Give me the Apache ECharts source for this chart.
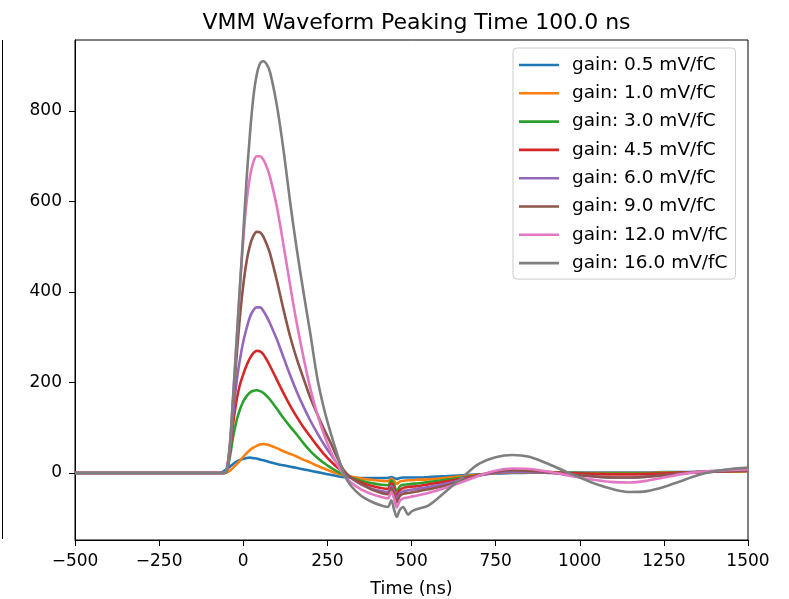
<!DOCTYPE html>
<html>
<head>
<meta charset="utf-8">
<script src="https://cdn.jsdelivr.net/npm/echarts@6/dist/echarts.min.js"></script>
<style>html,body{margin:0;padding:0;background:#fff;}#c{width:789px;height:599px;}</style>
</head>
<body>
<div id="c"></div>
<script>
const times = [-500,-400,-300,-200,-100,-70,-60,-50,-40,-30,-20,-10,0,10,20,30,40,50,60,70,80,100,120,140,160,180,200,220,240,260,280,300,320,350,380,410,430,440,448,456,465,475,490,500,515,550,600,650,700,750,800,850,900,950,1000,1050,1100,1150,1200,1250,1300,1350,1400,1450,1500];

const gain05 = [0,0,0,0,0,0, 3,8,14,20,25,29, 31,33,34,33,32,30,28,26,24, 20,17,14,11,8,5,2,-1,-4,-7,-9, -10,-11,-11,-11,-11, -9,-11,-13,-11,-10,-10,-10,-10, -9,-7,-5,-3,-1,0,1,1,1,1,1,1,1,1,2,2,2,3,3,4];
const gain10 = [0,0,0,0,0,0,0, 1,5,12,19,27, 36,44,51,56,60,63,64,63,61, 55,48,42,36,29,23,16,10,4,-1,-5, -8,-12,-15,-17,-18, -12,-17,-24,-19,-17,-16,-16,-15, -14,-11,-7,-4,0,2,2,2,1,0,0,0,0,0,1,1,2,3,3,4];
const gain30 = [0,0,0,0,0,0,0, 3,35,80,115,140, 158,170,178,182,183,181,177,170,162, 142,121,102,84,65,48,34,22,12,3,-4, -10,-17,-22,-26,-27, -16,-25,-40,-30,-26,-25,-24,-23, -20,-15,-10,-5,1,3,3,2,1,0,-1,-1,-1,-1,0,1,2,3,4,5];
const gain45 = [0,0,0,0,0,0,0, 4,45,110,160,195, 218,238,254,265,270,269,262,250,236, 206,176,148,123,100,80,60,42,26,12,0, -10,-21,-28,-33,-35, -22,-33,-50,-38,-33,-31,-30,-29, -25,-19,-12,-5,1,3,3,2,0,-1,-2,-3,-3,-2,-1,1,2,3,4,5];
const gain60 = [0,0,0,0,0,0,0, 4,50,130,200,250, 290,320,345,360,366,366,358,345,330, 295,255,215,178,145,115,88,63,41,20,3, -11,-25,-34,-40,-42, -28,-40,-58,-45,-40,-38,-37,-35, -31,-24,-15,-6,1,3,3,1,-2,-5,-8,-10,-10,-8,-5,-1,2,4,5,6];
const gain90 = [0,0,0,0,0,0,0, 5,55,155,255,345, 415,468,503,524,533,532,522,505,484, 425,360,300,250,207,165,130,97,66,33,5, -10,-24,-36,-44,-47, -33,-46,-65,-51,-46,-44,-43,-41, -36,-28,-17,-5,3,6,5,2,-2,-5,-8,-10,-10,-8,-5,-1,2,4,5,6];
const gain120 = [0,0,0,0,0,0,0, 5,60,170,290,410, 515,600,655,687,700,700,692,676,653, 588,502,412,327,252,185,130,85,48,18,-5, -21,-36,-46,-53,-56, -42,-56,-76,-62,-56,-54,-52,-50, -44,-33,-20,-6,5,10,9,4,-3,-10,-16,-20,-21,-17,-10,-3,2,5,7,8];
const gain160 = [0,0,0,0,0,0,0, 5,60,170,290,410, 530,650,750,830,880,905,910,903,885, 812,712,595,490,395,305,210,142,88,40,-3, -28,-50,-63,-72,-75, -60,-80,-97,-82,-75,-92,-85,-80, -72,-42,-10,20,35,40,36,22,6,-10,-25,-36,-42,-40,-31,-18,-5,4,9,12];

const seriesNames = ['gain: 0.5 mV/fC','gain: 1.0 mV/fC','gain: 3.0 mV/fC','gain: 4.5 mV/fC','gain: 6.0 mV/fC','gain: 9.0 mV/fC','gain: 12.0 mV/fC','gain: 16.0 mV/fC'];
const seriesValues = [gain05, gain10, gain30, gain45, gain60, gain90, gain120, gain160];
const colors = ['#1f77b4','#ff7f0e','#2ca02c','#d62728','#9467bd','#8c564b','#e377c2','#7f7f7f'];
const xTicks = [-500,-250,0,250,500,750,1000,1250,1500];
const yTicks = [0,200,400,600,800];

const chart = echarts.init(document.getElementById('c'), null, {renderer: 'canvas'});
const font = 'DejaVu Sans';
chart.setOption({
  animation: false,
  backgroundColor: '#fff',
  color: colors,
  title: {
    text: 'VMM Waveform Peaking Time 100.0 ns',
    left: 411.5, top: 7, textAlign: 'center',
    textStyle: {fontFamily: font, fontSize: 22, fontWeight: 'normal', color: '#000'}
  },
  grid: {left: 75, right: 41, top: 40, bottom: 59, show: true, borderColor: '#000', borderWidth: 1,
    containLabel: false, outerBoundsMode: 'none'},
  legend: {
    orient: 'vertical', left: 513, top: 48,
    padding: [7, 8, 6, 6],
    icon: 'rect',
    itemWidth: 40, itemHeight: 2.6, itemGap: 8.3,
    backgroundColor: 'rgba(255,255,255,0.8)', borderColor: '#cccccc', borderWidth: 1, borderRadius: 4,
    textStyle: {fontFamily: font, fontSize: 18.5, color: '#000', lineHeight: 20, padding: [0,0,0,8]},
    data: seriesNames
  },
  xAxis: {
    type: 'value', min: xTicks[0], max: xTicks[xTicks.length-1], interval: 250,
    name: 'Time (ns)', nameLocation: 'middle', nameGap: 40,
    nameTextStyle: {fontFamily: font, fontSize: 17.5, color: '#000'},
    axisLine: {show: true, onZero: false, lineStyle: {color: '#000', width: 1}},
    axisTick: {show: true, inside: false, length: 6, lineStyle: {color: '#000'}},
    axisLabel: {fontFamily: font, fontSize: 17, color: '#000', margin: 13,
      formatter: v => (v < 0 ? '\u2212' + Math.abs(v) : String(v))},
    splitLine: {show: false}
  },
  yAxis: {
    type: 'value', min: -148, max: 957,
    axisLine: {show: true, onZero: false, lineStyle: {color: '#000', width: 1}},
    axisTick: {show: true, inside: false, length: 6, lineStyle: {color: '#000'}, customValues: yTicks},
    axisLabel: {fontFamily: font, fontSize: 17, color: '#000', margin: 13, customValues: yTicks},
    splitLine: {show: false}
  },
  graphic: [{type: 'line', shape: {x1: 2.5, y1: 40, x2: 2.5, y2: 539}, style: {stroke: '#000', lineWidth: 1}}],
  series: seriesNames.map((name, k) => ({
    name: name, type: 'line', symbol: 'none', smooth: 0.3,
    lineStyle: {width: 2.6, color: colors[k]},
    itemStyle: {color: colors[k]},
    data: times.map((t, i) => [t, seriesValues[k][i]])
  }))
});
</script>
</body>
</html>
